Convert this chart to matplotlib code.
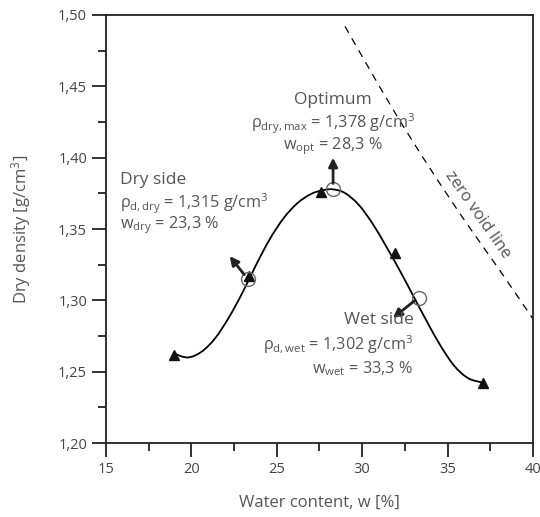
import matplotlib
matplotlib.use("Agg")
import matplotlib.pyplot as plt
import numpy as np
from matplotlib.path import Path
from matplotlib.patches import PathPatch
from matplotlib.ticker import MultipleLocator, FuncFormatter

plt.rcParams["font.family"] = ["Open Sans", "DejaVu Sans"]
plt.rcParams["mathtext.fontset"] = "custom"
plt.rcParams["mathtext.rm"] = "Open Sans"
plt.rcParams["mathtext.it"] = "Open Sans"

# Proctor curve
curve_w = [19.04, 19.8, 20.6, 21.4, 22.2, 23.0, 23.8, 24.6, 25.4, 26.2, 27.0,
           27.7, 28.3, 29.0, 29.8, 30.6, 31.4, 32.2, 33.0, 33.8, 34.6, 35.4,
           36.2, 37.0]
curve_rho = [1.2625, 1.2600, 1.2640, 1.2735, 1.2880, 1.3055, 1.3250, 1.3430, 1.3575,
             1.3680, 1.3745, 1.3772, 1.3778, 1.3752, 1.3670, 1.3540, 1.3380, 1.3210,
             1.3030, 1.2850, 1.2680, 1.2540, 1.2455, 1.2425]

# measured points
meas_w = [19.0, 23.4, 27.6, 31.95, 37.1]
meas_rho = [1.262, 1.317, 1.376, 1.333, 1.242]

# dry / optimum / wet
key_w = [23.3, 28.3, 33.3]
key_rho = [1.315, 1.378, 1.302]

# zero void line
zav_w = [29.0, 30.0, 32.0, 34.0, 36.0, 38.0, 40.0]
zav_rho = [1.492, 1.471, 1.430, 1.392, 1.356, 1.322, 1.287]


def smooth_path(xs, ys):
    # Catmull-Rom through the points, drawn as cubic Bezier segments
    p = np.column_stack([xs, ys])
    verts = [p[0]]
    codes = [Path.MOVETO]
    for i in range(len(p) - 1):
        p0 = p[i - 1] if i > 0 else p[i]
        p3 = p[i + 2] if i + 2 < len(p) else p[i + 1]
        c1 = p[i] + (p[i + 1] - p0) / 6
        c2 = p[i + 1] - (p3 - p[i]) / 6
        verts += [c1, c2, p[i + 1]]
        codes += [Path.CURVE4] * 3
    return Path(verts, codes)


txt = "#555555"
fig = plt.figure(figsize=(5.4, 5.17), dpi=100)
ax = fig.add_axes([0.196, 0.143, 0.791, 0.828])

ax.add_patch(PathPatch(smooth_path(curve_w, curve_rho), fill=False, ec="black", lw=1.3))
ax.add_patch(PathPatch(smooth_path(zav_w, zav_rho), fill=False, ec="black", lw=0.9,
                       linestyle=(0, (6, 5))))
ax.plot(meas_w, meas_rho, "^", color="#111111", ms=7.5)
ax.plot(key_w, key_rho, "o", mfc="none", mec="#666666", ms=10, mew=1.0)

arr = dict(arrowstyle="-|>", lw=2, color="#222222", mutation_scale=13, shrinkA=4, shrinkB=0)
ax.annotate("", xy=(22.25, 1.331), xytext=(key_w[0], key_rho[0]), arrowprops=arr)
ax.annotate("", xy=(28.3, 1.400), xytext=(key_w[1], key_rho[1]), arrowprops=arr)
ax.annotate("", xy=(31.8, 1.2876), xytext=(key_w[2], key_rho[2]), arrowprops=arr)

fs1, fs2 = 12.5, 11.7
# Dry side
ax.text(15.85, 1.3845, "Dry side", fontsize=fs1, color=txt, va="center")
ax.text(15.85, 1.3675, r"ρ$_{\mathregular{d,dry}}$ = 1,315 g/cm$^{\mathregular{3}}$",
        fontsize=fs2, color=txt, va="center")
ax.text(15.85, 1.3525, r"w$_{\mathregular{dry}}$ = 23,3 %", fontsize=fs2, color=txt, va="center")

# Optimum
ax.text(28.3, 1.4405, "Optimum", fontsize=fs1, color=txt, va="center", ha="center")
ax.text(28.3, 1.4235, r"ρ$_{\mathregular{dry,max}}$ = 1,378 g/cm$^{\mathregular{3}}$",
        fontsize=fs2, color=txt, va="center", ha="center")
ax.text(28.3, 1.4080, r"w$_{\mathregular{opt}}$ = 28,3 %", fontsize=fs2, color=txt,
        va="center", ha="center")

# Wet side
ax.text(33.0, 1.2860, "Wet side", fontsize=fs1, color=txt, va="center", ha="right")
ax.text(33.0, 1.2690, r"ρ$_{\mathregular{d,wet}}$ = 1,302 g/cm$^{\mathregular{3}}$",
        fontsize=fs2, color=txt, va="center", ha="right")
ax.text(33.0, 1.2525, r"w$_{\mathregular{wet}}$ = 33,3 %", fontsize=fs2, color=txt,
        va="center", ha="right")

ax.text(36.75, 1.360, "zero void line", fontsize=12, color=txt, rotation=-55,
        ha="center", va="center", rotation_mode="anchor")

ax.set_xlim(15, 40)
ax.set_ylim(1.20, 1.50)
ax.xaxis.set_major_locator(MultipleLocator(5))
ax.xaxis.set_minor_locator(MultipleLocator(2.5))
ax.yaxis.set_major_locator(MultipleLocator(0.05))
ax.yaxis.set_minor_locator(MultipleLocator(0.025))
ax.yaxis.set_major_formatter(FuncFormatter(lambda v, p: f"{v:.2f}".replace(".", ",")))
ax.tick_params(which="major", direction="out", length=10, width=1.3, colors="#222222",
               labelcolor="#444444", labelsize=10.5)
ax.tick_params(which="minor", direction="out", length=6, width=1.3, colors="#222222")
for s in ax.spines.values():
    s.set_linewidth(1.3)
    s.set_color("#222222")

ax.set_xlabel("Water content, w [%]", fontsize=12, color=txt, labelpad=13)
ax.set_ylabel(r"Dry density [g/cm$^{\mathregular{3}}$]", fontsize=12, color=txt, labelpad=18)

fig.savefig("out.png", dpi=100)
